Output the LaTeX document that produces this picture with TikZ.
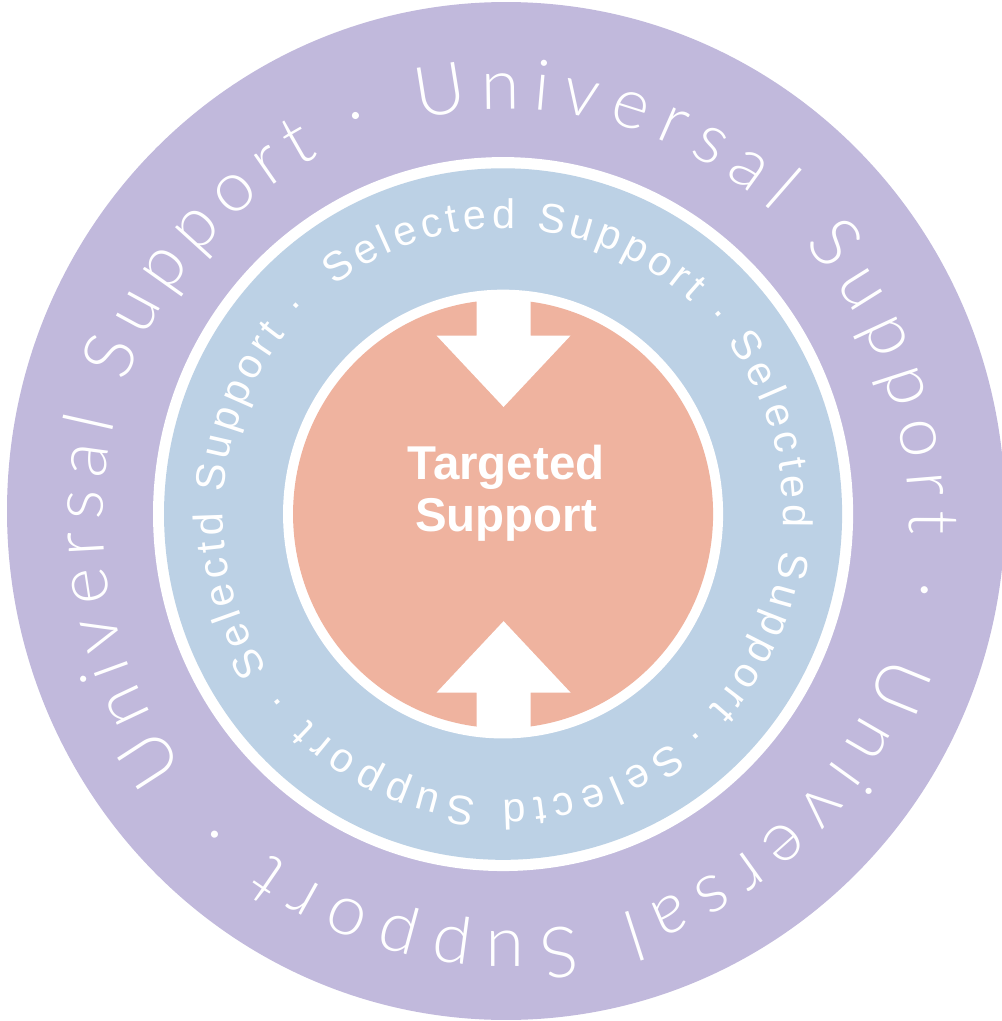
\documentclass[tikz,border=0pt]{standalone}
\usepackage{fontspec}
\usepackage{tikz}
\usetikzlibrary{calc, decorations.text}
\newfontfamily\univface{Lato}[UprightFont=* Light]
\newfontfamily\selface{Liberation Sans}
\definecolor{lilac}{RGB}{193, 185, 220}
\definecolor{paleblue}{RGB}{188, 209, 229}
\definecolor{salmon}{RGB}{239, 179, 159}

\begin{document}
\begin{tikzpicture}[x=0.02cm, y=0.0204cm]
  \useasboundingbox (0, 0) rectangle (1001, 1001);
  \coordinate (o) at (506, 500);
  \coordinate (ot) at (506, 491);
  \coordinate (c) at (503, 497);

  % Outer Ring
  \fill[lilac] (o) circle (499);

  \foreach \a/\d in {102.5/-113, -19/-115.5, -143/-107.5} {
    \path[decorate, decoration={text along path, text color=white,
      text={|\univface\fontsize{40}{42}\selectfont|Universal Support ·},
      text align={fit to path}}]
      ($(ot) + (\a:403)$) arc[start angle=\a, delta angle=\d, radius=403];
  }

  % Middle Ring
  \fill[white] (c) circle (350);
  \fill[paleblue] (c) circle (339);

  \foreach \a/\d/\w in {127/-86/Selected, 37/-87/Selected, -53/-89/Selectd, -147/-79/Selectd} {
    \path[decorate, decoration={text along path, text color=white,
      text/.expanded={|\noexpand\selface\noexpand\fontsize{23.5}{26}\noexpand\selectfont|\w\space Support ·},
      text align={fit to path}}]
      ($(c) + (\a:280)$) arc[start angle=\a, delta angle=\d, radius=280];
  }

  % Inner Circle
  \fill[white] (c) circle (220);
  \fill[salmon] (c) circle (210);

  \foreach \s in {1, -1} {
    \fill[white] ($(c) + (-26.5, {215*\s})$) -- ($(c) + (-26.5, {175*\s})$)
      -- ($(c) + (-66.5, {175*\s})$) -- ($(c) + (0.5, {105*\s})$)
      -- ($(c) + (67.5, {175*\s})$) -- ($(c) + (27.5, {175*\s})$)
      -- ($(c) + (27.5, {215*\s})$) -- cycle;
  }

  \node[font={\selface\bfseries\fontsize{27}{30}\selectfont}, text=white, align=center] (target) at (506, 517.5) {Targeted\\Support};
\end{tikzpicture}
\end{document}
